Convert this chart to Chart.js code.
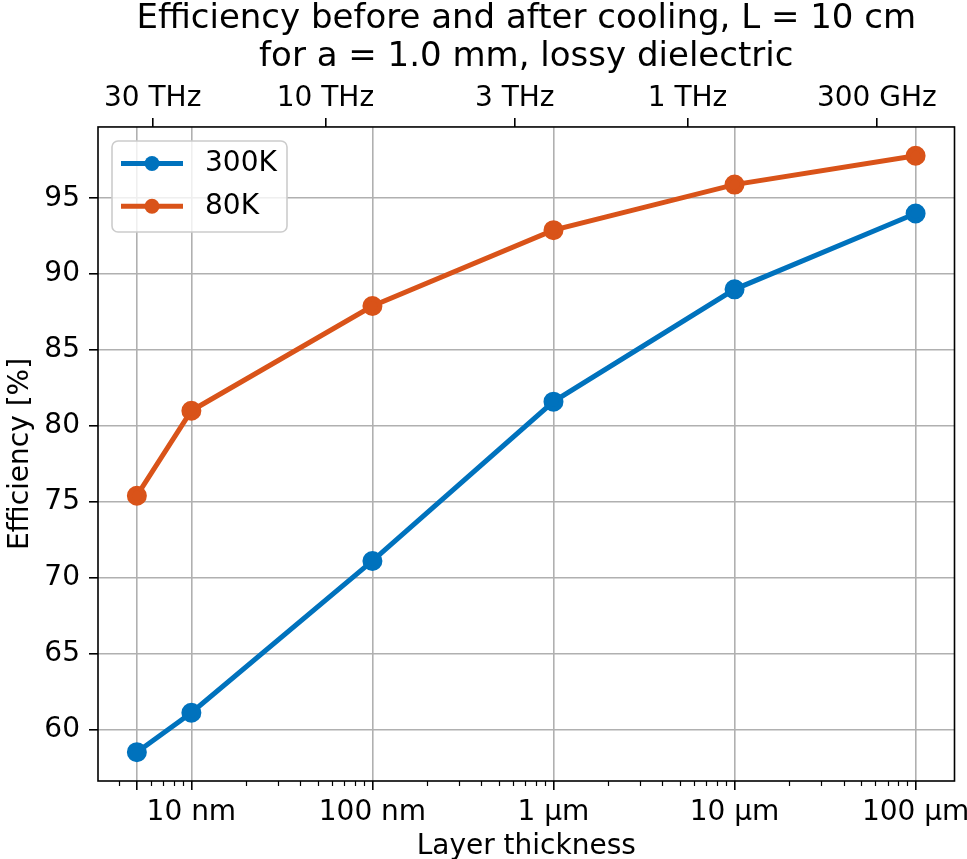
<!DOCTYPE html>
<html>
<head>
<meta charset="utf-8">
<script src="https://cdn.jsdelivr.net/npm/chart.js@4.4.0/dist/chart.umd.min.js"></script>
<style>
  html, body { margin: 0; padding: 0; background: #fff; }
  #chart { display: block; }
</style>
</head>
<body>
<canvas id="chart" width="967" height="859"></canvas>
<script>
// layer thickness in nm
const thicknessNm = [5, 10, 100, 1000, 10000, 100000];
const eff300K = [58.5, 61.1, 71.1, 81.6, 89.0, 94.0];
const eff80K = [75.4, 81.0, 87.9, 92.9, 95.9, 97.8];
const seriesNames = ["300K", "80K"];

const bottomTicks = [5, 10, 100, 1000, 10000, 100000];
const bottomLabels = ["", "10 nm", "100 nm", "1 µm", "10 µm", "100 µm"];
const topFreqTHz = [30, 10, 3, 1, 0.3];
const topLabels = ["30 THz", "10 THz", "3 THz", "1 THz", "300 GHz"];
const yTicks = [60, 65, 70, 75, 80, 85, 90, 95];

const blue = "#0072BD";
const orange = "#D95319";
const xMin = 3.05, xMax = 164000;

// thickness (nm) that matches a frequency on the top axis
const nmAtOneTHz = 5500;
const freqToNm = f => nmAtOneTHz / (f * f);

// minor ticks 2..9 per decade on the bottom axis
const minorTicks = [];
for (let d = 1; d <= 100000; d *= 10) {
  for (let m = 2; m <= 9; m++) {
    const v = m * d;
    if (v > xMin && v < xMax && !bottomTicks.includes(v)) minorTicks.push(v);
  }
}

const extras = {
  id: "extras",
  afterDraw(chart) {
    const c = chart.ctx;
    const a = chart.chartArea;
    const xs = chart.scales.x;
    c.save();
    // minor ticks
    c.strokeStyle = "#000";
    c.lineWidth = 1.2;
    minorTicks.forEach(v => {
      const px = Math.round(xs.getPixelForValue(v)) + 0.5;
      c.beginPath();
      c.moveTo(px, a.bottom);
      c.lineTo(px, a.bottom + 5);
      c.stroke();
    });
    // frame
    c.lineWidth = 1.6;
    c.strokeRect(a.left, a.top, a.right - a.left, a.bottom - a.top);

    // legend
    const x0 = a.left + 14, y0 = a.top + 14, w = 175, h = 91;
    c.fillStyle = "rgba(255,255,255,0.8)";
    c.strokeStyle = "#cccccc";
    c.lineWidth = 1.6;
    c.beginPath();
    c.roundRect(x0, y0, w, h, 6);
    c.fill();
    c.stroke();
    chart.data.datasets.forEach((ds, i) => {
      const y = y0 + 22.6 + i * 42.7;
      c.strokeStyle = ds.borderColor;
      c.lineWidth = ds.borderWidth;
      c.beginPath();
      c.moveTo(x0 + 9, y);
      c.lineTo(x0 + 71, y);
      c.stroke();
      c.fillStyle = ds.borderColor;
      c.beginPath();
      c.arc(x0 + 40, y, ds.pointRadius, 0, Math.PI * 2);
      c.fill();
      c.fillStyle = "#000";
      c.font = "28px 'DejaVu Sans', sans-serif";
      c.textBaseline = "middle";
      c.textAlign = "left";
      c.fillText(ds.label, x0 + 93, y);
    });
    c.restore();
  }
};

Chart.defaults.font.family = "'DejaVu Sans', sans-serif";
Chart.defaults.font.size = 28;
Chart.defaults.color = "#000";

const gridStyle = {
  color: "#b0b0b0",
  lineWidth: 1.6,
  tickColor: "#000",
  tickWidth: 1.6,
  tickLength: 9
};

const chartCtx = document.getElementById("chart").getContext("2d");
const chart = new Chart(chartCtx, {
  type: "line",
  data: {
    datasets: [
      {
        label: seriesNames[0],
        data: thicknessNm.map((x, i) => ({ x: x, y: eff300K[i] })),
        borderColor: blue,
        backgroundColor: blue,
        borderWidth: 5,
        pointRadius: 7.5,
        pointHoverRadius: 7.5,
        xAxisID: "x",
        yAxisID: "y"
      },
      {
        label: seriesNames[1],
        data: thicknessNm.map((x, i) => ({ x: x, y: eff80K[i] })),
        borderColor: orange,
        backgroundColor: orange,
        borderWidth: 5,
        pointRadius: 7.5,
        pointHoverRadius: 7.5,
        xAxisID: "x",
        yAxisID: "y"
      }
    ]
  },
  options: {
    responsive: false,
    animation: false,
    layout: { padding: { left: 0, right: 10, top: 0, bottom: 0 } },
    plugins: {
      legend: { display: false },
      tooltip: { enabled: false },
      title: {
        display: true,
        fullSize: false,
        text: ["Efficiency before and after cooling, L = 10 cm", "for a = 1.0 mm, lossy dielectric"],
        color: "#000",
        font: { size: 34, weight: "normal", lineHeight: 1.12 },
        padding: { top: 0, bottom: 0 }
      }
    },
    scales: {
      x: {
        type: "logarithmic",
        position: "bottom",
        min: xMin,
        max: xMax,
        afterBuildTicks: s => { s.ticks = bottomTicks.map(v => ({ value: v })); },
        afterFit: s => { s.height = 78; s.paddingLeft = 0; s.paddingRight = 0; },
        ticks: {
          autoSkip: false,
          maxRotation: 0,
          padding: 6,
          callback: (v, i) => bottomLabels[i]
        },
        grid: gridStyle,
        border: { display: false },
        title: {
          display: true,
          text: "Layer thickness",
          font: { size: 28, lineHeight: 1.2 },
          padding: { top: 0, bottom: -5 }
        }
      },
      x2: {
        type: "logarithmic",
        position: "top",
        min: xMin,
        max: xMax,
        afterBuildTicks: s => { s.ticks = topFreqTHz.map(f => ({ value: freqToNm(f) })); },
        afterFit: s => { s.height = 127 - 76.2; s.paddingLeft = 0; s.paddingRight = 0; },
        ticks: {
          autoSkip: false,
          maxRotation: 0,
          padding: 2,
          callback: (v, i) => topLabels[i]
        },
        grid: Object.assign({}, gridStyle, { drawOnChartArea: false }),
        border: { display: false }
      },
      y: {
        type: "linear",
        position: "left",
        min: 56.6,
        max: 99.7,
        afterBuildTicks: s => { s.ticks = yTicks.map(v => ({ value: v })); },
        afterFit: s => { s.width = 98; s.paddingTop = 0; s.paddingBottom = 0; },
        ticks: { padding: 9 },
        grid: gridStyle,
        border: { display: false },
        title: {
          display: true,
          text: "Efficiency [%]",
          font: { size: 28, lineHeight: 1.2 },
          padding: { top: 4, bottom: 0 }
        }
      }
    }
  },
  plugins: [extras]
});
</script>
</body>
</html>
